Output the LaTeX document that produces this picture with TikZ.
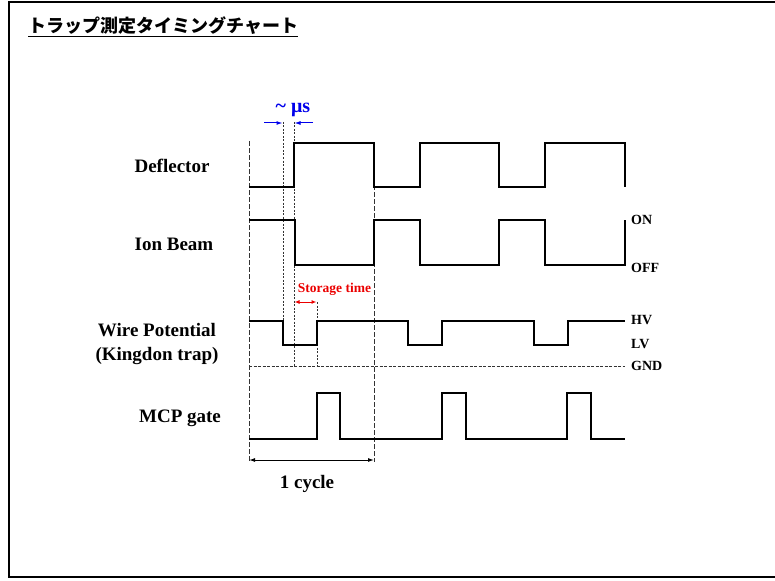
\documentclass[tikz,border=0pt]{standalone}
\usepackage{fontspec}
\setmainfont{Liberation Serif}
\newfontfamily\cjk[BoldFont={Noto Sans CJK JP Black}]{Noto Sans CJK JP}
\usetikzlibrary{arrows.meta}
\definecolor{mublue}{RGB}{0,0,235}
\definecolor{stred}{RGB}{235,0,0}
\begin{document}
\begin{tikzpicture}[x=1pt,y=-1pt,
  wave/.style={line width=1.2pt, line join=miter},
  longdash/.style={line width=0.9pt, dash pattern=on 5pt off 2pt, black!80},
  shortdash/.style={line width=0.9pt, dash pattern=on 2pt off 1.5pt, black!80},
  gnddash/.style={line width=0.9pt, dash pattern=on 3pt off 1.5pt, black!80},
  sig/.style={font=\fontsize{19}{24}\selectfont\bfseries, align=center, inner sep=0pt, anchor=base},
  lvl/.style={font=\fontsize{14}{16}\selectfont\bfseries, anchor=base west, inner sep=0pt},
  tip/.style={-{Latex[length=6pt,width=4pt]}}
]
\useasboundingbox (0,0) rectangle (775,580);
% frame
\draw[line width=2.4pt] (780,2) -- (9,2) -- (9,577) -- (780,577);

% title
\node[anchor=base west, inner sep=0pt, font=\cjk\bfseries\fontsize{18}{20}\selectfont] (title) at (28,33) {トラップ測定タイミングチャート};
\draw[line width=1.6pt] ([yshift=-3.5pt]title.base west) -- ([yshift=-3.5pt]title.base east);

% signal names
\node[sig] (ldef) at (172,172) {Deflector};
\node[sig] (lion) at (174,250) {Ion Beam};
\node[sig] (lwire1) at (157,336) {Wire Potential};
\node[sig] (lwire2) at (157,360) {(Kingdon trap)};
\node[sig] (lmcp) at (180,422) {MCP gate};

% level labels
\node[lvl] (lon) at (631,224) {ON};
\node[lvl] (loff) at (631,272) {OFF};
\node[lvl] (lhv) at (631,324) {HV};
\node[lvl] (llv) at (631,348) {LV};
\node[lvl] (lgnd) at (631,370) {GND};

% guide lines
\draw[longdash] (249,141) -- (249,462);
\draw[longdash] (374,143) -- (374,462);
\draw[shortdash] (283,122) -- (283,345);
\draw[shortdash] (294,122) -- (294,366);
\draw[shortdash] (317,302) -- (317,366);
\draw[gnddash] (249,366) -- (625,366);

% waveforms
\draw[wave] (249,187) -| (294,143) -| (374,187) -| (420,143) -| (499,187) -| (545,143) -| (625,187);
\draw[wave] (249,220) -| (295,265) -| (374,220) -| (420,265) -| (499,220) -| (545,265) -| (625,220);
\draw[wave] (249,321) -| (283,345) -| (317,321) -| (408,345) -| (442,321) -| (534,345) -| (568,321) -- (625,321);
\draw[wave] (249,439) -| (317,393) -| (340,439) -| (442,393) -| (466,439) -| (567,393) -| (591,439) -- (625,439);

% ~us marker
\coordinate (mual) at (264,123);
\coordinate (muar) at (282.5,123);
\coordinate (mubl) at (294.5,123);
\coordinate (mubr) at (313,123);
\draw[mublue, line width=1pt, tip] (mual) -- (muar);
\draw[mublue, line width=1pt, tip] (mubr) -- (mubl);
\node[anchor=base, inner sep=0pt, text=mublue, font=\fontsize{20}{22}\selectfont\bfseries] (mu) at (293,113) {\textasciitilde\ μs};

% storage time
\coordinate (sta) at (294.5,302);
\coordinate (stb) at (316.5,302);
\draw[stred, line width=1pt, {Latex[length=5pt,width=4pt]}-{Latex[length=5pt,width=4pt]}] (sta) -- (stb);
\node[anchor=base, inner sep=0pt, text=stred, font=\fontsize{13.5}{15}\selectfont\bfseries] (stt) at (334.5,292) {Storage time};

% 1 cycle
\coordinate (cyl) at (249,460);
\coordinate (cyr) at (374,460);
\draw[line width=1pt, {Latex[length=6pt,width=4pt]}-{Latex[length=6pt,width=4pt]}] (cyl) -- (cyr);
\node[sig] (lcyc) at (307,488) {1 cycle};
\end{tikzpicture}
\end{document}
